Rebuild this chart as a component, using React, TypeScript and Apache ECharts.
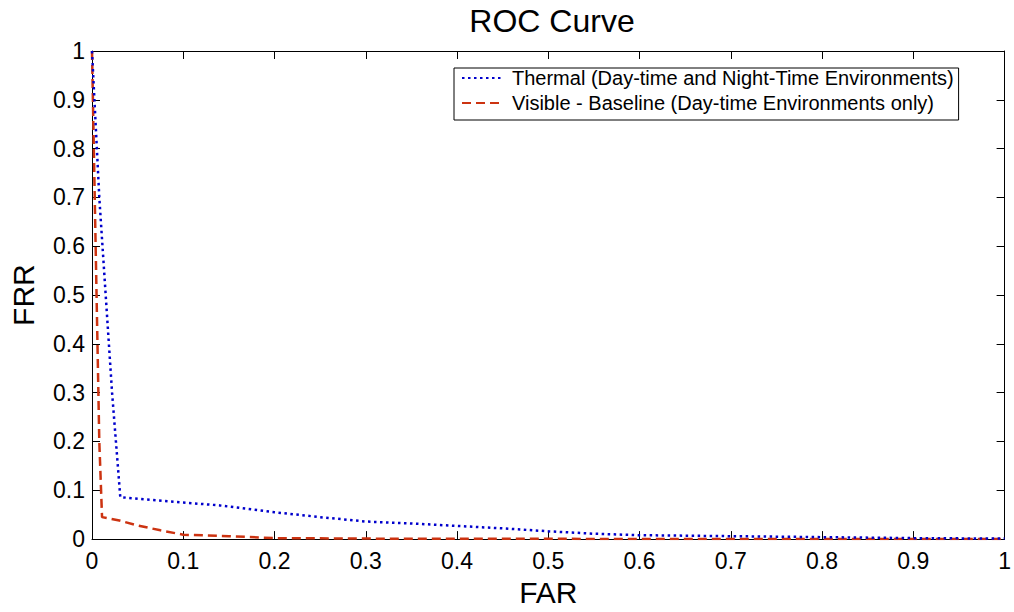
import React, { useEffect, useRef } from "react";
import * as echarts from "echarts";

const xTicks = [0, 0.1, 0.2, 0.3, 0.4, 0.5, 0.6, 0.7, 0.8, 0.9, 1];
const thermalFar = [0, 0.004, 0.008, 0.015, 0.022, 0.031, 0.06, 0.1, 0.14, 0.17, 0.2, 0.25, 0.3, 0.35, 0.4, 0.45, 0.5, 0.55, 0.6, 0.65, 0.7, 0.8, 0.9, 1];
const thermalFrr = [1, 0.85, 0.7, 0.5, 0.3, 0.086, 0.081, 0.075, 0.069, 0.062, 0.055, 0.045, 0.036, 0.032, 0.027, 0.022, 0.016, 0.011, 0.008, 0.007, 0.006, 0.004, 0.002, 0.001];
const visibleFar = [0, 0.002, 0.004, 0.006, 0.008, 0.011, 0.03, 0.05, 0.075, 0.1, 0.15, 0.2, 0.3, 0.5, 0.7, 1];
const visibleFrr = [1, 0.8, 0.6, 0.4, 0.2, 0.045, 0.038, 0.028, 0.018, 0.009, 0.006, 0.002, 0.001, 0.0005, 0.0002, 0];
const seriesNames = [
  "Thermal (Day-time and Night-Time Environments)",
  "Visible - Baseline (Day-time Environments only)",
];

const FONT = "'Liberation Sans', Arial, sans-serif";

export default function App() {
  const ref = useRef<HTMLDivElement>(null);
  useEffect(() => {
    document.body.style.margin = "0";
    const chart = echarts.init(ref.current!, null, { renderer: "svg" });
    const axisCommon = {
      type: "value" as const,
      min: 0,
      max: 1,
      interval: 0.1,
      axisLine: { show: true, onZero: false, lineStyle: { color: "#000", width: 1 } },
      axisTick: { show: true, inside: true, length: 8, lineStyle: { color: "#000" } },
      splitLine: { show: false },
    };
    chart.setOption({
      animation: false,
      backgroundColor: "#fff",
      textStyle: { fontFamily: FONT },
      title: {
        text: "ROC Curve",
        left: 547,
        top: 0,
        textAlign: "center",
        textStyle: { fontSize: 32, fontWeight: "normal", color: "#000", fontFamily: FONT },
      },
      grid: { left: 88, right: 8, top: 51, bottom: 68, containLabel: false },
      legend: {
        orient: "vertical",
        left: 454,
        top: 68,
        itemWidth: 42,
        itemHeight: 10,
        itemGap: 5,
        padding: [0, 5, 7, 7],
        borderColor: "#000",
        borderWidth: 1,
        backgroundColor: "#fff",
        itemStyle: { opacity: 0 },
        textStyle: { fontSize: 20, lineHeight: 20, color: "#000", fontFamily: FONT, padding: [0, 0, 0, 3] },
        data: seriesNames,
      },
      xAxis: [
        {
          ...axisCommon,
          position: "bottom",
          name: "FAR",
          nameLocation: "middle",
          nameGap: 37,
          nameTextStyle: { fontSize: 30, color: "#000", fontFamily: FONT },
          axisLabel: {
            fontSize: 23,
            color: "#000",
            margin: 10,
            fontFamily: FONT,
            customValues: xTicks,
          },
        },
        { ...axisCommon, position: "top", axisLabel: { show: false } },
      ],
      yAxis: [
        {
          ...axisCommon,
          position: "left",
          name: "FRR",
          nameLocation: "middle",
          nameGap: 54,
          nameTextStyle: { fontSize: 30, color: "#000", fontFamily: FONT },
          axisLabel: { fontSize: 23, color: "#000", margin: 7, fontFamily: FONT },
        },
        { ...axisCommon, position: "right", axisLabel: { show: false } },
      ],
      series: [
        {
          name: seriesNames[0],
          type: "line",
          data: thermalFar.map((x, i) => [x, thermalFrr[i]]),
          symbol: "none",
          showSymbol: false,
          lineStyle: { color: "#0000cc", width: 2.5, type: [2.5, 3.5] },
          itemStyle: { color: "#0000cc" },
          z: 3,
        },
        {
          name: seriesNames[1],
          type: "line",
          data: visibleFar.map((x, i) => [x, visibleFrr[i]]),
          symbol: "none",
          showSymbol: false,
          lineStyle: { color: "#cc3311", width: 2.5, type: [9, 5] },
          itemStyle: { color: "#cc3311" },
          z: 2,
        },
      ],
    });
    return () => chart.dispose();
  }, []);
  return <div ref={ref} style={{ width: 1014, height: 612 }} />;
}
